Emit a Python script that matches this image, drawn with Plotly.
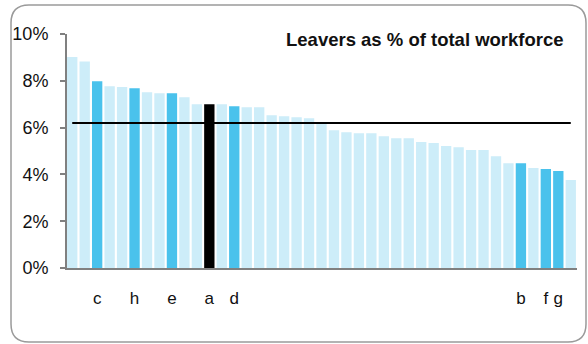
import plotly.graph_objects as go

# Data: leavers as % of total workforce, sorted descending
values = [9.02, 8.83, 7.98, 7.77, 7.73, 7.68, 7.51, 7.47, 7.47, 7.30,
          7.00, 7.00, 7.00, 6.91, 6.87, 6.87, 6.53, 6.49, 6.44, 6.40,
          6.20, 5.89, 5.80, 5.76, 5.76, 5.63, 5.55, 5.55, 5.38, 5.34,
          5.21, 5.16, 5.04, 5.04, 4.78, 4.48, 4.48, 4.27, 4.23, 4.14,
          3.76]
# highlight labels ("" = unlabelled organisation)
labels = ["", "", "c", "", "", "h", "", "", "e", "",
          "", "a", "", "d", "", "", "", "", "", "",
          "", "", "", "", "", "", "", "", "", "",
          "", "", "", "", "", "", "b", "", "f", "g",
          ""]
focus_label = "a"
average = 6.2
y_ticks = [0, 2, 4, 6, 8, 10]
y_tick_text = ["0%", "2%", "4%", "6%", "8%", "10%"]
title_text = "Leavers as % of total workforce"

LIGHT = "#CDEDF9"
DARK = "#4AC2EC"
BLACK = "#000000"

idx = list(range(len(values)))
colors = [BLACK if l == focus_label else (DARK if l else LIGHT) for l in labels]

W, H = 588, 344
L, R, T, B = 67, 577, 34, 268  # plot area in pixels


def px(x):
    return (x - L) / (R - L)


def py(y):
    return (B - y) / (B - T)


fig = go.Figure()
fig.add_trace(go.Bar(x=idx, y=values, marker=dict(color=colors, line=dict(width=0)),
                     hoverinfo="skip"))
fig.add_trace(go.Scatter(x=[idx[0], idx[-1]], y=[average, average], mode="lines",
                         line=dict(color="black", width=2), hoverinfo="skip"))

# rounded border
x0, x1, y0, y1, r = 11, 586, 5, 342, 18
path = (f"M {px(x0 + r)},{py(y0)} L {px(x1 - r)},{py(y0)} "
        f"Q {px(x1)},{py(y0)} {px(x1)},{py(y0 + r)} "
        f"L {px(x1)},{py(y1 - r)} Q {px(x1)},{py(y1)} {px(x1 - r)},{py(y1)} "
        f"L {px(x0 + r)},{py(y1)} Q {px(x0)},{py(y1)} {px(x0)},{py(y1 - r)} "
        f"L {px(x0)},{py(y0 + r)} Q {px(x0)},{py(y0)} {px(x0 + r)},{py(y0)} Z")

fig.update_layout(
    width=W, height=H,
    margin=dict(l=L, r=W - R, t=T, b=H - B, pad=0),
    paper_bgcolor="white", plot_bgcolor="white",
    showlegend=False, bargap=0.17,
    font=dict(family="Liberation Sans, Arial, sans-serif", color="#111111", size=16),
    shapes=[dict(type="path", xref="paper", yref="paper", path=path,
                 line=dict(color="#9a9a9a", width=1.5), layer="below")],
    annotations=[dict(text=f"<b>{title_text}</b>", xref="paper", yref="paper",
                      x=px(566), y=py(39), xanchor="right", yanchor="middle",
                      showarrow=False, font=dict(size=18.5, color="#111111"))],
)
fig.update_xaxes(range=[-0.42, 40.5], showgrid=False, zeroline=False, automargin=False,
                 showline=True, linecolor="#808080", linewidth=2,
                 tickvals=[i for i, l in zip(idx, labels) if l],
                 ticktext=[l for l in labels if l],
                 ticks="outside", ticklen=14, tickcolor="rgba(0,0,0,0)",
                 tickfont=dict(size=17))
fig.update_yaxes(range=[0, 10], showgrid=False, zeroline=False, automargin=False,
                 showline=True, linecolor="#808080", linewidth=2,
                 tickvals=y_ticks, ticktext=y_tick_text,
                 ticks="outside", ticklen=5, tickcolor="#808080", tickwidth=2,
                 ticklabelstandoff=8, tickfont=dict(size=18))

fig.write_html("out.html", config={"displayModeBar": False},
               post_script="document.body.style.margin='0px';")
